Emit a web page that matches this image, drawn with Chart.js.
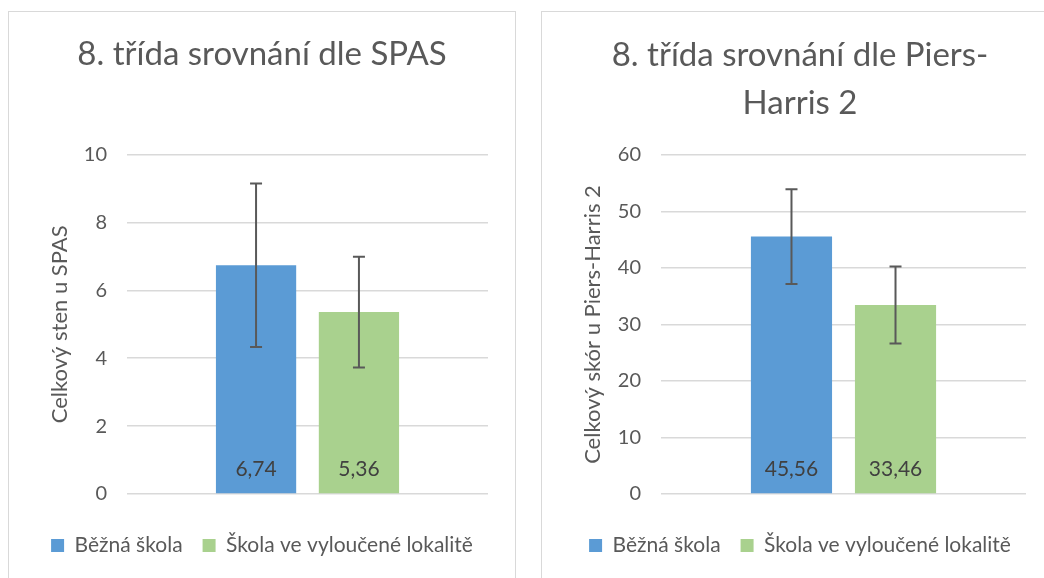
<!DOCTYPE html>
<html>
<head>
<meta charset="utf-8">
<script src="https://cdn.jsdelivr.net/npm/chart.js@4"></script>
<style>
  html, body { margin: 0; padding: 0; background: #ffffff; width: 1044px; height: 578px; overflow: hidden; }
  .box { position: absolute; top: 11px; height: 600px; border: 1.5px solid #d9d9d9; box-sizing: border-box; background: #fff; }
  .wrap { position: absolute; top: 0; left: 0; }
</style>
</head>
<body>
<div class="box" style="left:8px; width:508px;">
  <div class="wrap" style="width:506px; height:566px;"><canvas id="c1"></canvas></div>
</div>
<div class="box" style="left:541px; width:530px;">
  <div class="wrap" style="width:516px; height:566px;"><canvas id="c2"></canvas></div>
</div>
<script>
// ---- data ----
const seriesNames = ["Běžná škola", "Škola ve vyloučené lokalitě"];
const seriesColors = ["#5B9BD5", "#A9D18E"];
const categories = [""];
const spasMeans = [6.74, 5.36];
const spasErrors = [2.41, 1.63];
const phMeans = [45.56, 33.46];
const phErrors = [8.40, 6.83];
const spasTitle = "8. třída srovnání dle SPAS";
const phTitle = ["8. třída srovnání dle Piers-", "Harris 2"];
const spasAxisTitle = "Celkový sten u SPAS";
const phAxisTitle = "Celkový skór u Piers-Harris 2";

const FONT = "Lato, 'Open Sans', sans-serif";
const TEXT = "#595959";

const errorBarPlugin = {
  id: 'errorBars',
  afterDatasetsDraw(chart) {
    const ctx = chart.ctx;
    const y = chart.scales.y;
    const errs = chart.options.plugins.errorBars.errors;
    chart.data.datasets.forEach((ds, i) => {
      const meta = chart.getDatasetMeta(i);
      meta.data.forEach((bar, j) => {
        const v = ds.data[j];
        const e = errs[i];
        const top = y.getPixelForValue(v + e);
        const bot = y.getPixelForValue(v - e);
        ctx.save();
        ctx.strokeStyle = "#595959";
        ctx.lineWidth = 2;
        ctx.beginPath();
        ctx.moveTo(bar.x, top); ctx.lineTo(bar.x, bot);
        ctx.moveTo(bar.x - 6, top); ctx.lineTo(bar.x + 6, top);
        ctx.moveTo(bar.x - 6, bot); ctx.lineTo(bar.x + 6, bot);
        ctx.stroke();
        ctx.restore();
      });
    });
  }
};

const labelPlugin = {
  id: 'barLabels',
  afterDatasetsDraw(chart) {
    const ctx = chart.ctx;
    const y = chart.scales.y;
    chart.data.datasets.forEach((ds, i) => {
      const meta = chart.getDatasetMeta(i);
      meta.data.forEach((bar, j) => {
        const txt = ds.data[j].toFixed(2).replace('.', ',');
        ctx.save();
        ctx.fillStyle = "#404040";
        ctx.font = "21px " + FONT;
        ctx.textAlign = "center";
        ctx.textBaseline = "middle";
        ctx.fillText(txt, bar.x, y.getPixelForValue(0) - 25);
        ctx.restore();
      });
    });
  }
};

function makeChart(id, title, titleLineHeight, axisTitle, means, errors, max, step, titleOffset, yWidth, rightWidth, titlePadTop, titlePadBottom) {
  return new Chart(document.getElementById(id), {
    type: 'bar',
    data: {
      labels: categories,
      datasets: seriesNames.map((n, i) => ({
        label: n,
        data: [means[i]],
        backgroundColor: seriesColors[i],
        borderWidth: 0,
        categoryPercentage: 0.57,
        barPercentage: 0.78
      }))
    },
    options: {
      responsive: true,
      maintainAspectRatio: false,
      animation: false,
      layout: { padding: { left: 0, right: 0, top: 0, bottom: 12 } },
      plugins: {
        title: {
          display: true, text: title, color: TEXT,
          font: { family: FONT, size: 33, weight: 'normal', lineHeight: titleLineHeight },
          padding: { top: titlePadTop, bottom: titlePadBottom }
        },
        legend: {
          position: 'bottom',
          labels: { color: TEXT, font: { family: FONT, size: 21 }, boxWidth: 13, boxHeight: 13, padding: 20 }
        },
        tooltip: { enabled: false },
        errorBars: { errors: errors }
      },
      scales: {
        x: {
          display: true,
          grid: { display: false },
          ticks: { display: false },
          border: { display: false },
          afterFit(scale) { scale.height = 21; }
        },
        y: {
          min: 0, max: max,
          ticks: { stepSize: step, color: TEXT, font: { family: FONT, size: 20 }, padding: 20 },
          grid: { color: "#d9d9d9", lineWidth: 1.5, drawTicks: false },
          border: { display: false },
          title: { display: true, text: axisTitle, color: TEXT, font: { family: FONT, size: 22 }, padding: { top: titleOffset, bottom: 0 } },
          afterFit(scale) { scale.width = yWidth; }
        },
        yRight: {
          type: 'linear', position: 'right', display: true,
          grid: { display: false }, ticks: { display: false }, border: { display: false },
          afterFit(scale) { scale.width = rightWidth; }
        }
      }
    },
    plugins: [errorBarPlugin, labelPlugin]
  });
}

makeChart('c1', spasTitle, 1.2, spasAxisTitle, spasMeans, spasErrors, 10, 2, 38, 118, 27, 23, 80);
makeChart('c2', phTitle, 1.455, phAxisTitle, phMeans, phErrors, 60, 10, 38, 119, 32, 19, 28);
</script>
</body>
</html>
